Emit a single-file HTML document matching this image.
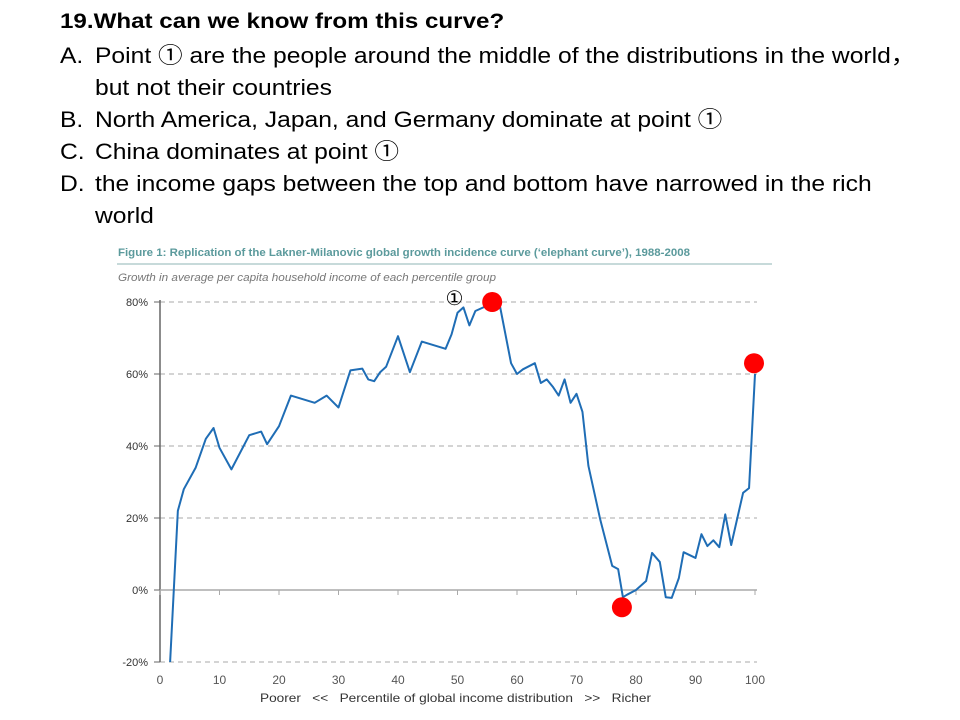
<!DOCTYPE html>
<html><head><meta charset="utf-8"><style>
body{margin:0;width:960px;height:720px;background:#fff;overflow:hidden;position:relative;font-family:"Liberation Sans","Noto Sans CJK SC",sans-serif}
.q{position:absolute;font-size:22px;color:#000;white-space:nowrap;line-height:26px;transform-origin:0 0;transform:scaleX(1.12)}
</style></head><body>
<div class="q" style="left:60px;top:9px;font-weight:bold;font-size:21px;transform:scaleX(1.15)">19.What can we know from this curve?</div>
<div class="q" style="left:60px;top:43px">A.</div>
<div class="q" style="left:95px;top:43px">Point ① are the people around the middle of the distributions in the world，</div>
<div class="q" style="left:95px;top:75px">but not their countries</div>
<div class="q" style="left:60px;top:107px">B.</div>
<div class="q" style="left:95px;top:107px">North America, Japan, and Germany dominate at point ①</div>
<div class="q" style="left:60px;top:139px">C.</div>
<div class="q" style="left:95px;top:139px">China dominates at point ①</div>
<div class="q" style="left:60px;top:171px">D.</div>
<div class="q" style="left:95px;top:171px">the income gaps between the top and bottom have narrowed in the rich</div>
<div class="q" style="left:95px;top:203px">world</div>
<svg id="chart" width="960" height="720" style="position:absolute;left:0;top:0">
<text x="118" y="256" font-size="11" font-weight="bold" fill="#5b9a9c" font-family="Liberation Sans,sans-serif" textLength="572" lengthAdjust="spacingAndGlyphs">Figure 1: Replication of the Lakner-Milanovic global growth incidence curve (‘elephant curve’), 1988-2008</text>
<line x1="117" y1="264" x2="772" y2="264" stroke="#8fb5b5" stroke-width="1"/>
<text x="118" y="281" font-size="11" font-style="italic" fill="#777" font-family="Liberation Sans,sans-serif" textLength="378" lengthAdjust="spacingAndGlyphs">Growth in average per capita household income of each percentile group</text>
<g id="grid"></g><g id="axes"></g><g id="series"></g><g id="marks"></g>
<text x="260" y="702" font-size="12" fill="#333" font-family="Liberation Sans,sans-serif" xml:space="preserve" textLength="391" lengthAdjust="spacingAndGlyphs">Poorer   &lt;&lt;   Percentile of global income distribution   &gt;&gt;   Richer</text>
</svg>
<script>
const percentiles=[1.7,3,4,6,7.7,9,10,12,15,17,18,20,22,26,28,29.5,30,32,34,35,36,37,38,40,42,44,48,49,50,51,52,53,55,56,57,59,60,61,63,64,65,66,67,68,69,70,71,72,74,76,77,77.8,78.5,80,81.7,82.7,84,85,86,87.2,88,89,90,91,92,93,94,95,96,98,99,100];
const growth=[-20,22,28,34,42,45,39.5,33.5,43,44,40.5,45.5,54,52,54,51.5,50.7,61,61.5,58.5,58,60.5,62,70.5,60.5,69,67,71,77,78.5,73.5,77.5,79,80,80,63,60,61.3,63,57.5,58.5,56.5,54,58.5,52,54.5,49.5,34.5,19.5,6.7,5.8,-2,-1.3,0,2.5,10.3,7.8,-2,-2.2,3.3,10.5,9.7,8.9,15.5,12.2,13.8,11.9,21,12.5,27,28.3,60];
const yTicks=[80,60,40,20,0,-20];
const yTickLabels=["80%","60%","40%","20%","0%","-20%"];
const xTicks=[0,10,20,30,40,50,60,70,80,90,100];
const highlightX=[56,77.8,100];
const highlightY=[80,-4.8,63];
const X=v=>160+v*5.95, Y=v=>590-v*3.6;
const NS="http://www.w3.org/2000/svg";
function mk(t,a,p){const e=document.createElementNS(NS,t);for(const k in a)e.setAttribute(k,a[k]);p.appendChild(e);return e;}
const grid=document.getElementById('grid'),axes=document.getElementById('axes'),series=document.getElementById('series'),marks=document.getElementById('marks');
yTicks.forEach((v,i)=>{
 if(v!==0){const l=mk('line',{x1:160,x2:757,y1:Y(v),y2:Y(v),stroke:'#aaa','stroke-dasharray':'5,4','stroke-width':1},grid);
 
 }
 const tk=mk('line',{x1:154,x2:160,y1:Y(v),y2:Y(v),stroke:'#666'},axes);
 
 
 const t=mk('text',{x:148,y:Y(v)+4,'font-size':11,'text-anchor':'end',fill:'#333','font-family':'Liberation Sans,sans-serif'},axes);
 t.textContent=yTickLabels[i];
 
 
});
const ya=mk('line',{x1:160,x2:160,y1:Y(80)-2,y2:Y(-20),stroke:'#666','stroke-width':1.5},axes);


const xa=mk('line',{x1:160,x2:757,y1:Y(0),y2:Y(0),stroke:'#aaa','stroke-width':1.5},axes);


xTicks.forEach(v=>{
 const tk=mk('line',{x1:X(v),x2:X(v),y1:Y(0),y2:Y(0)+5,stroke:'#aaa'},axes);
 
 
 const t=mk('text',{x:X(v),y:684,'font-size':12,'text-anchor':'middle',fill:'#555','font-family':'Liberation Sans,sans-serif'},axes);
 t.textContent=v;
 
 
});
const pl=mk('polyline',{points:percentiles.map((p,i)=>X(p)+','+Y(growth[i])).join(' '),fill:'none',stroke:'#1f6db5','stroke-width':2,'stroke-linejoin':'round'},series);


highlightX.forEach((p,i)=>{
 const c=mk('circle',{cx:X(p)-1,cy:Y(highlightY[i]),r:10,fill:'#ff0000'},marks);
 
 
});
const lab=mk('text',{x:X(49.5),y:305,'font-size':20,'text-anchor':'middle',fill:'#000','font-family':'Liberation Serif,DejaVu Sans,serif'},marks);
lab.textContent='①';


</script>
</body></html>
